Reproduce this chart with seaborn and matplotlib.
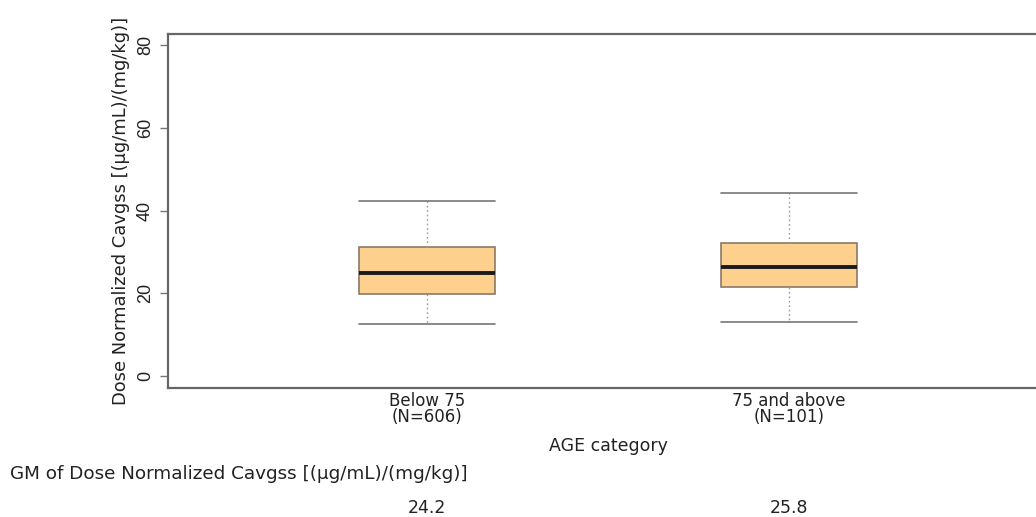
import numpy as np
import pandas as pd
import matplotlib
matplotlib.use("Agg")
import matplotlib.pyplot as plt
import matplotlib.transforms as mtransforms
import seaborn as sns

# ---- data ----
categories = ["Below 75", "75 and above"]
n_labels = ["(N=606)", "(N=101)"]
# five-number summaries: lower whisker, Q1, median, Q3, upper whisker
below75_stats = [12.6, 19.8, 24.9, 31.2, 42.3]
above75_stats = [13.1, 21.5, 26.3, 32.1, 44.2]
gm_values = ["24.2", "25.8"]

df = pd.DataFrame({
    "age": [categories[0]] * len(below75_stats) + [categories[1]] * len(above75_stats),
    "value": below75_stats + above75_stats,
})

sns.set_theme(style="white")
plt.rcParams["font.family"] = ["DejaVu Sans"]
txt_font = ["DejaVu Sans"]

fig = plt.figure(figsize=(10.36, 5.17), dpi=100)
ax = fig.add_axes([168 / 1036, (517 - 388) / 517, (1048 - 168) / 1036, (388 - 34) / 517])

sns.boxplot(
    data=df, x="age", y="value", order=categories, ax=ax,
    width=0.376, whis=np.inf, color="#FDD08D", saturation=1,
    linecolor="#8a7a6a", linewidth=1.2,
    boxprops=dict(facecolor="#FDD08D", edgecolor="#8a7a6a", linewidth=1.2),
    medianprops=dict(color="#1a1a1a", linewidth=2.8),
    whiskerprops=dict(color="#999999", linestyle=(0, (1.2, 2.0)), linewidth=1.0),
    capprops=dict(color="#777777", linewidth=1.2),
    capwidths=0.376,
)

ax.set_xlim(-0.716, 1.716)
ax.set_ylim(-2.9, 82.7)
ax.set_yticks([0, 20, 40, 60, 80])
ax.set_yticklabels(["0", "20", "40", "60", "80"], rotation=90, va="center",
                   fontsize=13, color="#222222", family=["Liberation Sans", "DejaVu Sans"])
ax.set_xticks([0, 1])
ax.set_xticklabels([f"{c}\n{n}" for c, n in zip(categories, n_labels)],
                   fontsize=12, color="#222222", family=txt_font,
                   linespacing=0.85)
ax.tick_params(axis="x", length=0, pad=3)
ax.tick_params(axis="y", length=6, width=1, color="#777777", pad=4, left=True, direction="out")

ax.set_ylabel("Dose Normalized Cavgss [(µg/mL)/(mg/kg)]", fontsize=12.9,
              family=txt_font, color="#222222", labelpad=5)
ax.set_xlabel("AGE category", fontsize=12.5, family=txt_font,
              color="#222222", labelpad=8)

for side in ["top", "bottom", "left", "right"]:
    ax.spines[side].set_color("#666666")
    ax.spines[side].set_linewidth(1.6)

fig.text(10 / 1036, 1 - 474 / 517, "GM of Dose Normalized Cavgss [(µg/mL)/(mg/kg)]",
         fontsize=13.2, family=txt_font, color="#222222", va="center", ha="left")

trans = mtransforms.blended_transform_factory(ax.transData, fig.transFigure)
for i, v in enumerate(gm_values):
    ax.text(i, 1 - 508 / 517, v, transform=trans, ha="center", va="center",
            fontsize=12.5, family=txt_font, color="#222222")

fig.savefig("out.png", dpi=100, facecolor="white")
